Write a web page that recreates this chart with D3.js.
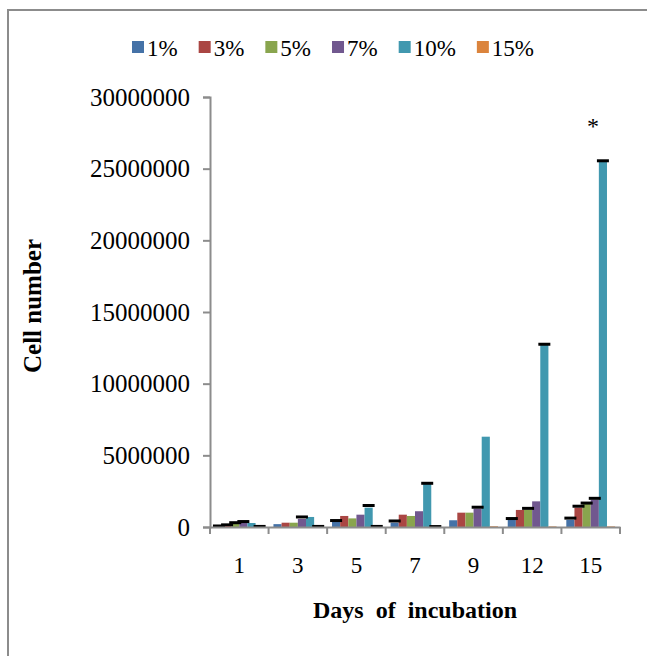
<!DOCTYPE html>
<html>
<head>
<meta charset="utf-8">
<script src="https://cdn.jsdelivr.net/npm/d3@7"></script>
<style>
  body { margin: 0; background: #fff; }
</style>
</head>
<body>
<div id="chart"></div>
<script>
// setting up constants
const FRAME_WIDTH = 647;
const FRAME_HEIGHT = 656;
const MARGINS = {left: 210, right: 27, top: 97, bottom: 129};
const FONT = "'Liberation Serif', 'Times New Roman', serif";

// data (cell numbers)
const days = ["1", "3", "5", "7", "9", "12", "15"];
const series = ["1%", "3%", "5%", "7%", "10%", "15%"];
const colors = ["#4572A7", "#AA4643", "#89A54E", "#71588F", "#4198AF", "#DB843D"];

const v1 = [50000, 200000, 350000, 300000, 470000, 490000, 500000];
const v3 = [120000, 300000, 770000, 860000, 1000000, 1190000, 1350000];
const v5 = [250000, 300000, 600000, 770000, 1000000, 1200000, 1620000];
const v7 = [330000, 560000, 860000, 1100000, 1280000, 1790000, 1900000];
const v10 = [280000, 700000, 1350000, 3000000, 6300000, 12700000, 25500000];
const v15 = [20000, 20000, 20000, 10000, 50000, 40000, 40000];

// error (only the cap is visible)
const e1 = [20000, 0, 100000, 120000, 0, 100000, 120000];
const e3 = [30000, 0, 0, 0, 0, 0, 100000];
const e5 = [50000, 0, 0, 0, 0, 100000, 50000];
const e7 = [50000, 140000, 0, 0, 100000, 0, 100000];
const e10 = [0, 0, 150000, 50000, 0, 50000, 50000];
const e15 = [20000, 20000, 20000, 20000, 0, 0, 0];

const yTicks = [0, 5000000, 10000000, 15000000, 20000000, 25000000, 30000000];

const values = [v1, v3, v5, v7, v10, v15];
const errors = [e1, e3, e5, e7, e10, e15];

const svg = d3.select("#chart")
  .append("svg")
  .attr("width", FRAME_WIDTH)
  .attr("height", FRAME_HEIGHT);

// outer frame
svg.append("rect")
  .attr("x", 8).attr("y", 10)
  .attr("width", 700).attr("height", 700)
  .attr("fill", "none")
  .attr("stroke", "#8c8c8c")
  .attr("stroke-width", 2);

const x = d3.scaleBand()
  .domain(days)
  .range([MARGINS.left, FRAME_WIDTH - MARGINS.right]);

const xs = d3.scaleBand()
  .domain(series)
  .range([0, x.bandwidth()])
  .paddingOuter(0.6);

const y = d3.scaleLinear()
  .domain([0, 30000000])
  .range([FRAME_HEIGHT - MARGINS.bottom, MARGINS.top]);

// bars
series.forEach(function(s, i) {
  svg.append("g")
    .selectAll("rect")
    .data(days)
    .join("rect")
      .attr("x", d => x(d) + xs(s))
      .attr("y", (d, j) => y(values[i][j]))
      .attr("width", xs.bandwidth())
      .attr("height", (d, j) => y(0) - y(values[i][j]))
      .attr("fill", colors[i]);
});

// error caps
series.forEach(function(s, i) {
  svg.append("g")
    .selectAll("rect")
    .data(days.filter((d, j) => errors[i][j] > 0))
    .join("rect")
      .attr("x", d => x(d) + xs(s) + xs.bandwidth() / 2 - 6)
      .attr("y", d => y(values[i][days.indexOf(d)] + errors[i][days.indexOf(d)]) - 1.5)
      .attr("width", 12)
      .attr("height", 3)
      .attr("fill", "#000");
});

// y axis
const yAxis = svg.append("g")
  .attr("transform", `translate(${MARGINS.left},0)`)
  .call(d3.axisLeft(y).tickValues(yTicks).tickFormat(d3.format("d")).tickSize(7).tickPadding(13));
yAxis.select(".domain").attr("stroke", "#8c8c8c").attr("stroke-width", 2);
yAxis.selectAll(".tick line").attr("stroke", "#8c8c8c").attr("stroke-width", 2);
yAxis.selectAll("text")
  .attr("font-size", 25)
  .attr("font-family", FONT)
  .attr("fill", "#000");

// x axis
const xAxis = svg.append("g")
  .attr("transform", `translate(0,${y(0)})`)
  .call(d3.axisBottom(x).tickSize(0).tickPadding(30));
xAxis.select(".domain").attr("stroke", "#8c8c8c").attr("stroke-width", 2);
xAxis.selectAll("text")
  .attr("font-size", 23)
  .attr("font-family", FONT)
  .attr("fill", "#000");
// tick marks between the day groups
xAxis.selectAll(".sep")
  .data(days.concat(["end"]))
  .join("line")
    .attr("x1", (d, i) => i < days.length ? x(d) : x.range()[1])
    .attr("x2", (d, i) => i < days.length ? x(d) : x.range()[1])
    .attr("y1", 0).attr("y2", 7)
    .attr("stroke", "#8c8c8c").attr("stroke-width", 2);

// axis titles
svg.append("text")
  .attr("transform", "translate(41,306) rotate(-90)")
  .attr("text-anchor", "middle")
  .attr("font-family", FONT)
  .attr("font-size", 25)
  .attr("font-weight", "bold")
  .text("Cell number");

svg.append("text")
  .attr("x", 415).attr("y", 618)
  .attr("text-anchor", "middle")
  .attr("font-family", FONT)
  .attr("font-size", 24)
  .attr("font-weight", "bold")
  .attr("word-spacing", 6)
  .text("Days of incubation");

// asterisk above the day 15, 10% bar
svg.append("text")
  .attr("x", x("15") + xs("10%") + xs.bandwidth() / 2 - 10)
  .attr("y", y(27400000))
  .attr("text-anchor", "middle")
  .attr("font-family", FONT)
  .attr("font-size", 24)
  .text("*");

// legend
const legend = svg.append("g").attr("transform", "translate(132,56)");
let lx = 0;
series.forEach(function(s, i) {
  const g = legend.append("g").attr("transform", `translate(${lx},0)`);
  g.append("rect")
    .attr("x", 0).attr("y", -15)
    .attr("width", 12).attr("height", 12)
    .attr("fill", colors[i]);
  const t = g.append("text")
    .attr("x", 15).attr("y", 0)
    .attr("font-family", FONT)
    .attr("font-size", 23)
    .text(s);
  lx += 15 + t.node().getComputedTextLength() + 21;
});
</script>
</body>
</html>
